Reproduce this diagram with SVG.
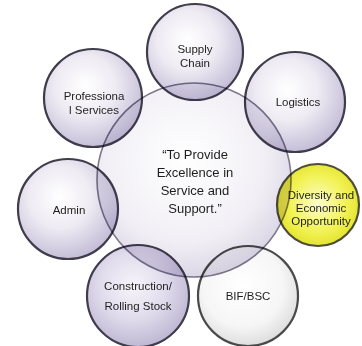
<svg xmlns="http://www.w3.org/2000/svg" width="362" height="346" viewBox="0 0 362 346">
<defs>
<radialGradient id="gLav" cx="42%" cy="38%" r="62%">
<stop offset="0" stop-color="#ffffff"/>
<stop offset="0.5" stop-color="#eeebf3"/>
<stop offset="1" stop-color="#c6bfd8"/>
</radialGradient>
<radialGradient id="gLav2" cx="45%" cy="40%" r="62%">
<stop offset="0" stop-color="#f6f4fa"/>
<stop offset="0.5" stop-color="#e2dded"/>
<stop offset="1" stop-color="#bdb5d2"/>
</radialGradient>
<radialGradient id="gYel" cx="50%" cy="48%" r="60%">
<stop offset="0" stop-color="#fbfbd0"/>
<stop offset="0.55" stop-color="#f3f35a"/>
<stop offset="1" stop-color="#dede1e"/>
</radialGradient>
<radialGradient id="gWhite" cx="45%" cy="40%" r="62%">
<stop offset="0" stop-color="#ffffff"/>
<stop offset="0.65" stop-color="#f6f6f6"/>
<stop offset="1" stop-color="#dcdcdc"/>
</radialGradient>
<radialGradient id="gBig" cx="45%" cy="40%" r="60%">
<stop offset="0" stop-color="#ffffff"/>
<stop offset="0.7" stop-color="#f1eff5"/>
<stop offset="1" stop-color="#dcd7e6"/>
</radialGradient>
</defs>
<style>
.node circle{stroke:#3f3c4c;stroke-width:2.2}
.lbl{font-family:"Liberation Sans",Arial,sans-serif;font-size:11.5px;fill:#1e1e1e;text-anchor:middle}
.ctr{font-family:"Liberation Sans",Arial,sans-serif;font-size:13px;fill:#1e1e1e;text-anchor:middle}
.big{fill:url(#gBig);stroke:#7d778c;stroke-width:1.6;mix-blend-mode:multiply}
</style>
<g id="supply-chain" class="node"><circle cx="195" cy="52" r="48" fill="url(#gLav)"/></g>
<g id="logistics" class="node"><circle cx="295" cy="102" r="50" fill="url(#gLav)"/></g>
<g id="professional-services" class="node"><circle cx="93" cy="98" r="49" fill="url(#gLav)"/></g>
<g id="admin" class="node"><circle cx="68" cy="209" r="50" fill="url(#gLav)"/></g>
<g id="construction" class="node"><circle cx="138" cy="296" r="51" fill="url(#gLav2)"/></g>
<g id="bif-bsc" class="node"><circle cx="248" cy="296" r="50" fill="url(#gWhite)" style="stroke:#4a4a4a"/></g>
<g id="diversity" class="node"><circle cx="318" cy="205" r="41" fill="url(#gYel)" style="stroke:#4e4e38"/></g>
<g id="center"><circle class="big" cx="194" cy="180" r="97"/></g>
<g id="labels">
<text class="lbl" x="195" y="53">Supply</text>
<text class="lbl" x="195" y="67">Chain</text>
<text class="lbl" x="298" y="106">Logistics</text>
<text class="lbl" x="94" y="100">Professiona</text>
<text class="lbl" x="94" y="114">l Services</text>
<text class="lbl" x="69" y="214">Admin</text>
<text class="lbl" x="138" y="290">Construction/</text>
<text class="lbl" x="138" y="310">Rolling Stock</text>
<text class="lbl" x="248" y="300">BIF/BSC</text>
<text class="lbl" x="321" y="199">Diversity and</text>
<text class="lbl" x="321" y="212">Economic</text>
<text class="lbl" x="321" y="225">Opportunity</text>
<text class="ctr" x="195" y="159">“To Provide</text>
<text class="ctr" x="195" y="177">Excellence in</text>
<text class="ctr" x="195" y="195">Service and</text>
<text class="ctr" x="195" y="213">Support.”</text>
</g>
<g id="connectors"/>
</svg>
